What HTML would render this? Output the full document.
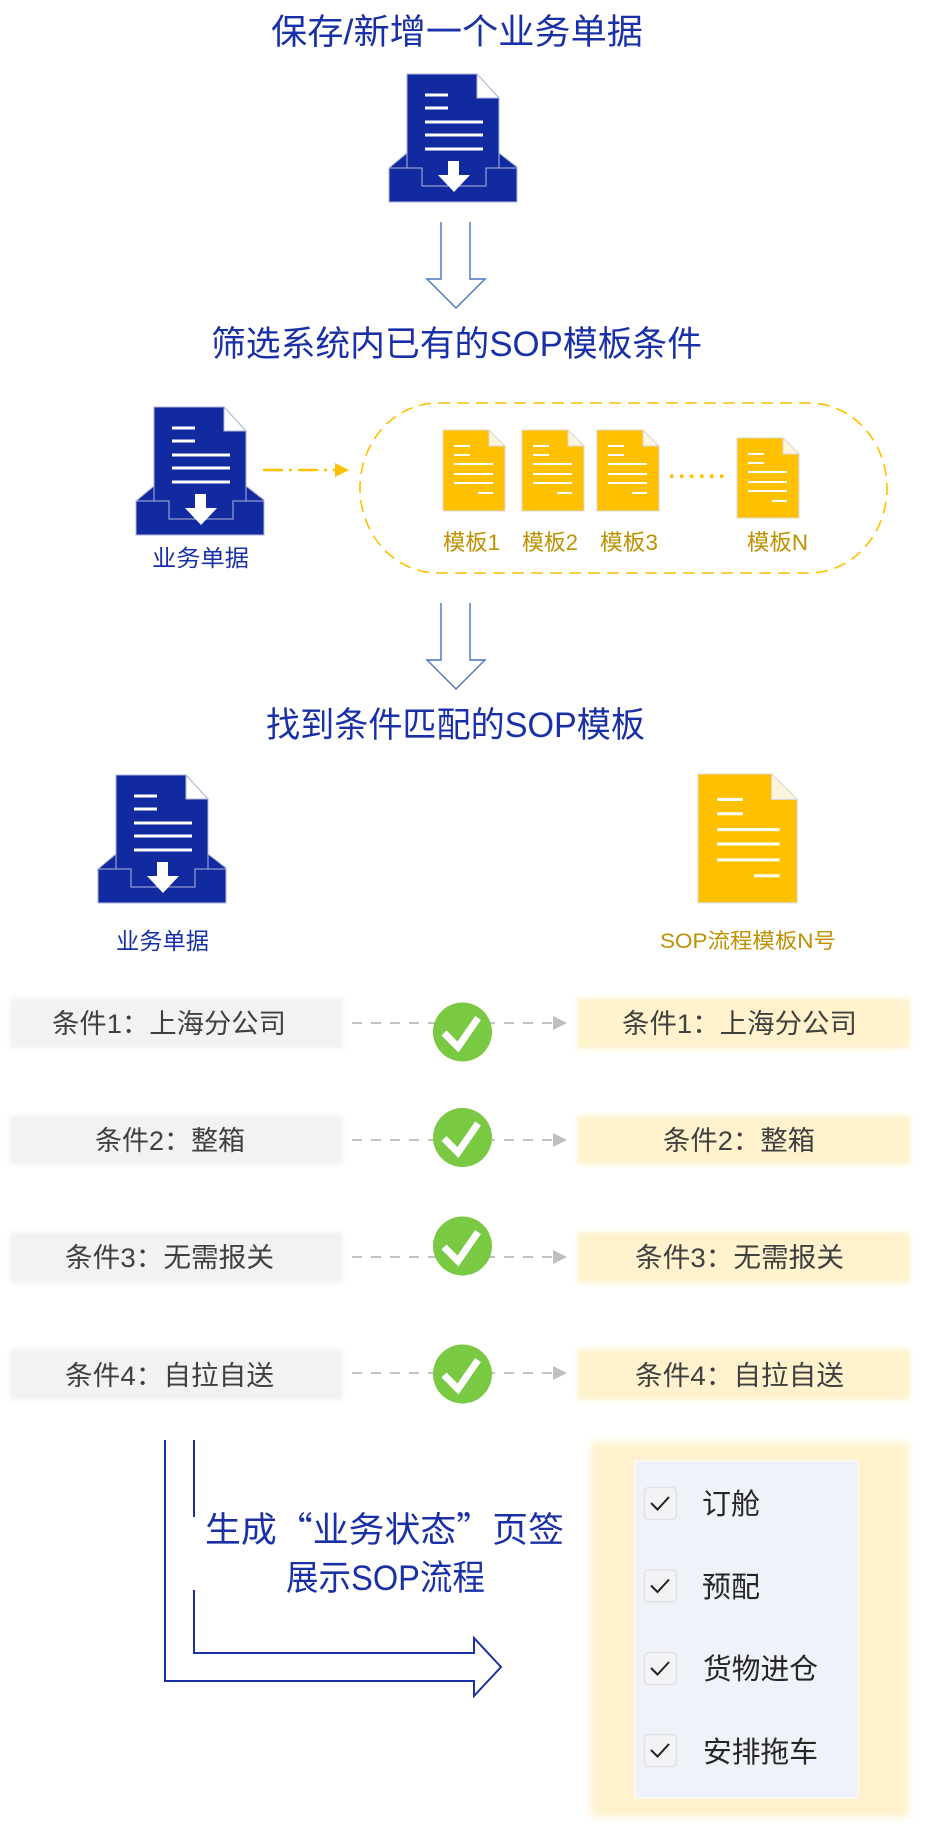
<!DOCTYPE html>
<html>
<head>
<meta charset="utf-8">
<style>
html,body{margin:0;padding:0;background:#fff;}
body{width:928px;height:1838px;overflow:hidden;}
svg{display:block;}
text{font-family:"Liberation Sans","Noto Sans CJK SC",sans-serif;}
</style>
</head>
<body>
<svg width="928" height="1838" viewBox="0 0 928 1838" xmlns="http://www.w3.org/2000/svg">
<defs>
<filter id="b3" x="-10%" y="-30%" width="120%" height="160%"><feGaussianBlur stdDeviation="2.5"/></filter>
<filter id="b5" x="-10%" y="-10%" width="120%" height="120%"><feGaussianBlur stdDeviation="4"/></filter>
</defs>

<!-- Titles -->
<text x="271" y="44" font-size="35" fill="#1a30a6" textLength="372" lengthAdjust="spacingAndGlyphs">保存/新增一个业务单据</text>

<!-- Top blue icon -->
<g transform="translate(389,73)">
  <path d="M18,1 H88 L110,25 V115 H18 Z" fill="#122aa0" stroke="#aeb6d8" stroke-width="1"/>
  <path d="M88,1 L88,25 L110,25 Z" fill="#fff" stroke="#aeb6d8" stroke-width="1"/>
  <g stroke="#fff" stroke-width="3">
    <line x1="36" y1="22" x2="59" y2="22"/><line x1="36" y1="35" x2="59" y2="35"/>
    <line x1="36" y1="49" x2="94" y2="49"/><line x1="36" y1="62" x2="94" y2="62"/><line x1="36" y1="76" x2="94" y2="76"/>
  </g>
  <path d="M0,95 L18,80 V95 Z" fill="#122aa0" stroke="#aeb6d8" stroke-width="1"/>
  <path d="M110,80 L128,94 V95 H110 Z" fill="#122aa0" stroke="#aeb6d8" stroke-width="1"/>
  <path d="M0,95 H33 V113 H97 V95 H128 V129 H0 Z" fill="#122aa0" stroke="#aeb6d8" stroke-width="1"/>
  <path d="M59,88 H70 V102 H81 L65,119 L49,102 H59 Z" fill="#fff"/>
</g>

<!-- Hollow arrow 1 -->
<path d="M441,222 V279 H427 L456,308 L485,279 H470 V222" fill="none" stroke="#4a72c4" stroke-width="1.4"/>

<text x="211" y="356" font-size="35" fill="#1a30a6" textLength="491" lengthAdjust="spacingAndGlyphs">筛选系统内已有的SOP模板条件</text>

<!-- Middle blue icon -->
<g transform="translate(136,406)">
  <path d="M18,1 H88 L110,25 V115 H18 Z" fill="#122aa0" stroke="#aeb6d8" stroke-width="1"/>
  <path d="M88,1 L88,25 L110,25 Z" fill="#fff" stroke="#aeb6d8" stroke-width="1"/>
  <g stroke="#fff" stroke-width="3">
    <line x1="36" y1="22" x2="59" y2="22"/><line x1="36" y1="35" x2="59" y2="35"/>
    <line x1="36" y1="49" x2="94" y2="49"/><line x1="36" y1="62" x2="94" y2="62"/><line x1="36" y1="76" x2="94" y2="76"/>
  </g>
  <path d="M0,95 L18,80 V95 Z" fill="#122aa0" stroke="#aeb6d8" stroke-width="1"/>
  <path d="M110,80 L128,94 V95 H110 Z" fill="#122aa0" stroke="#aeb6d8" stroke-width="1"/>
  <path d="M0,95 H33 V113 H97 V95 H128 V129 H0 Z" fill="#122aa0" stroke="#aeb6d8" stroke-width="1"/>
  <path d="M59,88 H70 V102 H81 L65,119 L49,102 H59 Z" fill="#fff"/>
</g>
<text x="152" y="566" font-size="23" fill="#1a30a6" textLength="97" lengthAdjust="spacingAndGlyphs">业务单据</text>

<!-- dash-dot arrow -->
<line x1="263" y1="470" x2="336" y2="470" stroke="#ffc000" stroke-width="2.5" stroke-dasharray="20 6 3 6"/>
<path d="M335,463 L349,470 L335,477 Z" fill="#ffc000"/>

<!-- Dashed pill -->
<rect x="360" y="403" width="527" height="170" rx="78" ry="85" fill="none" stroke="#ffc000" stroke-width="1.6" stroke-dasharray="12 7"/>

<!-- small yellow docs -->
<g transform="translate(443,430)">
  <path d="M0,0 H46 L62,16 V81 H0 Z" fill="#ffc000" stroke="#d9d9d9" stroke-width="1"/>
  <path d="M46,0 V16 H62 Z" fill="#fdf4dc" stroke="#d9d9d9" stroke-width="1"/>
  <g stroke="#fff" stroke-width="2"><line x1="11" y1="16" x2="27" y2="16"/><line x1="11" y1="25" x2="27" y2="25"/><line x1="11" y1="34" x2="50" y2="34"/><line x1="11" y1="44" x2="50" y2="44"/><line x1="11" y1="53" x2="50" y2="53"/><line x1="35" y1="63" x2="50" y2="63"/></g>
</g>
<g transform="translate(522,430)">
  <path d="M0,0 H46 L62,16 V81 H0 Z" fill="#ffc000" stroke="#d9d9d9" stroke-width="1"/>
  <path d="M46,0 V16 H62 Z" fill="#fdf4dc" stroke="#d9d9d9" stroke-width="1"/>
  <g stroke="#fff" stroke-width="2"><line x1="11" y1="16" x2="27" y2="16"/><line x1="11" y1="25" x2="27" y2="25"/><line x1="11" y1="34" x2="50" y2="34"/><line x1="11" y1="44" x2="50" y2="44"/><line x1="11" y1="53" x2="50" y2="53"/><line x1="35" y1="63" x2="50" y2="63"/></g>
</g>
<g transform="translate(597,430)">
  <path d="M0,0 H46 L62,16 V81 H0 Z" fill="#ffc000" stroke="#d9d9d9" stroke-width="1"/>
  <path d="M46,0 V16 H62 Z" fill="#fdf4dc" stroke="#d9d9d9" stroke-width="1"/>
  <g stroke="#fff" stroke-width="2"><line x1="11" y1="16" x2="27" y2="16"/><line x1="11" y1="25" x2="27" y2="25"/><line x1="11" y1="34" x2="50" y2="34"/><line x1="11" y1="44" x2="50" y2="44"/><line x1="11" y1="53" x2="50" y2="53"/><line x1="35" y1="63" x2="50" y2="63"/></g>
</g>
<g transform="translate(737,438)">
  <path d="M0,0 H46 L62,16 V80 H0 Z" fill="#ffc000" stroke="#d9d9d9" stroke-width="1"/>
  <path d="M46,0 V16 H62 Z" fill="#fdf4dc" stroke="#d9d9d9" stroke-width="1"/>
  <g stroke="#fff" stroke-width="2"><line x1="11" y1="16" x2="27" y2="16"/><line x1="11" y1="25" x2="27" y2="25"/><line x1="11" y1="34" x2="50" y2="34"/><line x1="11" y1="44" x2="50" y2="44"/><line x1="11" y1="53" x2="50" y2="53"/><line x1="35" y1="63" x2="50" y2="63"/></g>
</g>
<g fill="#ffc000">
  <rect x="670" y="474.5" width="3.5" height="3.5"/><rect x="680" y="474.5" width="3.5" height="3.5"/><rect x="690" y="474.5" width="3.5" height="3.5"/><rect x="700" y="474.5" width="3.5" height="3.5"/><rect x="710" y="474.5" width="3.5" height="3.5"/><rect x="720" y="474.5" width="3.5" height="3.5"/>
</g>
<g font-size="22" fill="#bf9000">
  <text x="443" y="550" textLength="57" lengthAdjust="spacingAndGlyphs">模板1</text>
  <text x="522" y="550" textLength="56" lengthAdjust="spacingAndGlyphs">模板2</text>
  <text x="600" y="550" textLength="58" lengthAdjust="spacingAndGlyphs">模板3</text>
  <text x="747" y="550" textLength="61" lengthAdjust="spacingAndGlyphs">模板N</text>
</g>

<!-- Hollow arrow 2 -->
<path d="M441,603 V660 H427 L456,689 L485,660 H470 V603" fill="none" stroke="#4a72c4" stroke-width="1.4"/>

<text x="266" y="737" font-size="35" fill="#1a30a6" textLength="379" lengthAdjust="spacingAndGlyphs">找到条件匹配的SOP模板</text>

<!-- Bottom blue icon -->
<g transform="translate(98,774)">
  <path d="M18,1 H88 L110,25 V115 H18 Z" fill="#122aa0" stroke="#aeb6d8" stroke-width="1"/>
  <path d="M88,1 L88,25 L110,25 Z" fill="#fff" stroke="#aeb6d8" stroke-width="1"/>
  <g stroke="#fff" stroke-width="3">
    <line x1="36" y1="22" x2="59" y2="22"/><line x1="36" y1="35" x2="59" y2="35"/>
    <line x1="36" y1="49" x2="94" y2="49"/><line x1="36" y1="62" x2="94" y2="62"/><line x1="36" y1="76" x2="94" y2="76"/>
  </g>
  <path d="M0,95 L18,80 V95 Z" fill="#122aa0" stroke="#aeb6d8" stroke-width="1"/>
  <path d="M110,80 L128,94 V95 H110 Z" fill="#122aa0" stroke="#aeb6d8" stroke-width="1"/>
  <path d="M0,95 H33 V113 H97 V95 H128 V129 H0 Z" fill="#122aa0" stroke="#aeb6d8" stroke-width="1"/>
  <path d="M59,88 H70 V102 H81 L65,119 L49,102 H59 Z" fill="#fff"/>
</g>
<text x="116" y="949" font-size="23" fill="#1a30a6" textLength="93" lengthAdjust="spacingAndGlyphs">业务单据</text>

<!-- Big yellow doc -->
<g transform="translate(698,774) scale(1.6,1.59)">
  <path d="M0,0 H46 L62,16 V81 H0 Z" fill="#ffc000" stroke="#d9d9d9" stroke-width="0.7"/>
  <path d="M46,0 V16 H62 Z" fill="#fdf4dc" stroke="#d9d9d9" stroke-width="0.7"/>
  <g stroke="#fff" stroke-width="1.9"><line x1="12" y1="16" x2="28" y2="16"/><line x1="12" y1="25" x2="28" y2="25"/><line x1="12" y1="35" x2="51" y2="35"/><line x1="12" y1="44" x2="51" y2="44"/><line x1="12" y1="54" x2="51" y2="54"/><line x1="35" y1="64" x2="51" y2="64"/></g>
</g>
<text x="660" y="948" font-size="21" fill="#bf9000" textLength="176" lengthAdjust="spacingAndGlyphs">SOP流程模板N号</text>

<!-- Condition rows -->
<g filter="url(#b3)">
  <rect x="10" y="998" width="333" height="51" fill="#f2f2f2"/>
  <rect x="10" y="1115" width="333" height="50" fill="#f2f2f2"/>
  <rect x="10" y="1232" width="333" height="51" fill="#f2f2f2"/>
  <rect x="10" y="1349" width="333" height="51" fill="#f2f2f2"/>
  <rect x="577" y="998" width="333" height="51" fill="#fff2cc"/>
  <rect x="577" y="1115" width="333" height="50" fill="#fff2cc"/>
  <rect x="577" y="1232" width="333" height="51" fill="#fff2cc"/>
  <rect x="577" y="1349" width="333" height="51" fill="#fff2cc"/>
</g>

<g stroke="#c2c2c2" stroke-width="2" stroke-dasharray="10 9">
  <line x1="352" y1="1023" x2="553" y2="1023"/>
  <line x1="352" y1="1140" x2="553" y2="1140"/>
  <line x1="352" y1="1257" x2="553" y2="1257"/>
  <line x1="352" y1="1373" x2="553" y2="1373"/>
</g>
<g fill="#bfbfbf">
  <path d="M553,1016 L567,1023 L553,1030 Z"/>
  <path d="M553,1133 L567,1140 L553,1147 Z"/>
  <path d="M553,1250 L567,1257 L553,1264 Z"/>
  <path d="M553,1366 L567,1373 L553,1380 Z"/>
</g>

<g>
  <circle cx="462.5" cy="1032" r="29.5" fill="#7ac943"/>
  <path d="M444,1033 L458,1047 L478,1018" fill="none" stroke="#fff" stroke-width="7"/>
  <circle cx="462.5" cy="1137.5" r="29.5" fill="#7ac943"/>
  <path d="M444,1138.5 L458,1152.5 L478,1123.5" fill="none" stroke="#fff" stroke-width="7"/>
  <circle cx="462.5" cy="1246" r="29.5" fill="#7ac943"/>
  <path d="M444,1247 L458,1261 L478,1232" fill="none" stroke="#fff" stroke-width="7"/>
  <circle cx="462.5" cy="1374" r="29.5" fill="#7ac943"/>
  <path d="M444,1375 L458,1389 L478,1360" fill="none" stroke="#fff" stroke-width="7"/>
</g>

<g font-size="27" fill="#404040">
  <text x="52" y="1033" textLength="234" lengthAdjust="spacingAndGlyphs">条件1：上海分公司</text>
  <text x="622" y="1033" textLength="235" lengthAdjust="spacingAndGlyphs">条件1：上海分公司</text>
  <text x="95" y="1150" textLength="150" lengthAdjust="spacingAndGlyphs">条件2：整箱</text>
  <text x="663" y="1150" textLength="152" lengthAdjust="spacingAndGlyphs">条件2：整箱</text>
  <text x="65" y="1267" textLength="209" lengthAdjust="spacingAndGlyphs">条件3：无需报关</text>
  <text x="635" y="1267" textLength="209" lengthAdjust="spacingAndGlyphs">条件3：无需报关</text>
  <text x="65" y="1385" textLength="209" lengthAdjust="spacingAndGlyphs">条件4：自拉自送</text>
  <text x="635" y="1385" textLength="209" lengthAdjust="spacingAndGlyphs">条件4：自拉自送</text>
</g>

<!-- L arrow -->
<path d="M194,1440 V1517" fill="none" stroke="#1a30a6" stroke-width="2"/>
<path d="M165,1440 V1681 H474 V1696 L501,1667 L474,1638 V1653 H194 V1590" fill="none" stroke="#1a30a6" stroke-width="2"/>
<text x="205" y="1542" font-size="35" fill="#1a30a6" textLength="359" lengthAdjust="spacingAndGlyphs">生成<tspan font-family="Noto Sans CJK SC">“</tspan>业务状态<tspan font-family="Noto Sans CJK SC">”</tspan>页签</text>
<text x="286" y="1590" font-size="35" fill="#1a30a6" textLength="199" lengthAdjust="spacingAndGlyphs">展示SOP流程</text>

<!-- Right panel -->
<rect x="591" y="1442" width="318" height="375" fill="#fff2cc" filter="url(#b5)"/>
<rect x="635" y="1461" width="223" height="337" fill="#eff2f8" stroke="#ffffff" stroke-width="1"/>

<g fill="#f3f3f6" stroke="#e1e1e6" stroke-width="1.5">
  <rect x="644.5" y="1487.5" width="32" height="32" rx="4"/>
  <rect x="644.5" y="1570" width="32" height="32" rx="4"/>
  <rect x="644.5" y="1652.5" width="32" height="32" rx="4"/>
  <rect x="644.5" y="1734.5" width="32" height="32" rx="4"/>
</g>
<g fill="none" stroke="#222" stroke-width="2">
  <path d="M651,1503 L657.5,1509.5 L669,1497"/>
  <path d="M651,1585.5 L657.5,1592 L669,1579.5"/>
  <path d="M651,1668 L657.5,1674.5 L669,1662"/>
  <path d="M651,1750 L657.5,1756.5 L669,1744"/>
</g>
<g font-size="29" fill="#262626">
  <text x="702" y="1514" textLength="58" lengthAdjust="spacingAndGlyphs">订舱</text>
  <text x="702" y="1597" textLength="58" lengthAdjust="spacingAndGlyphs">预配</text>
  <text x="703" y="1679" textLength="115" lengthAdjust="spacingAndGlyphs">货物进仓</text>
  <text x="703" y="1762" textLength="115" lengthAdjust="spacingAndGlyphs">安排拖车</text>
</g>
</svg>
</body>
</html>
